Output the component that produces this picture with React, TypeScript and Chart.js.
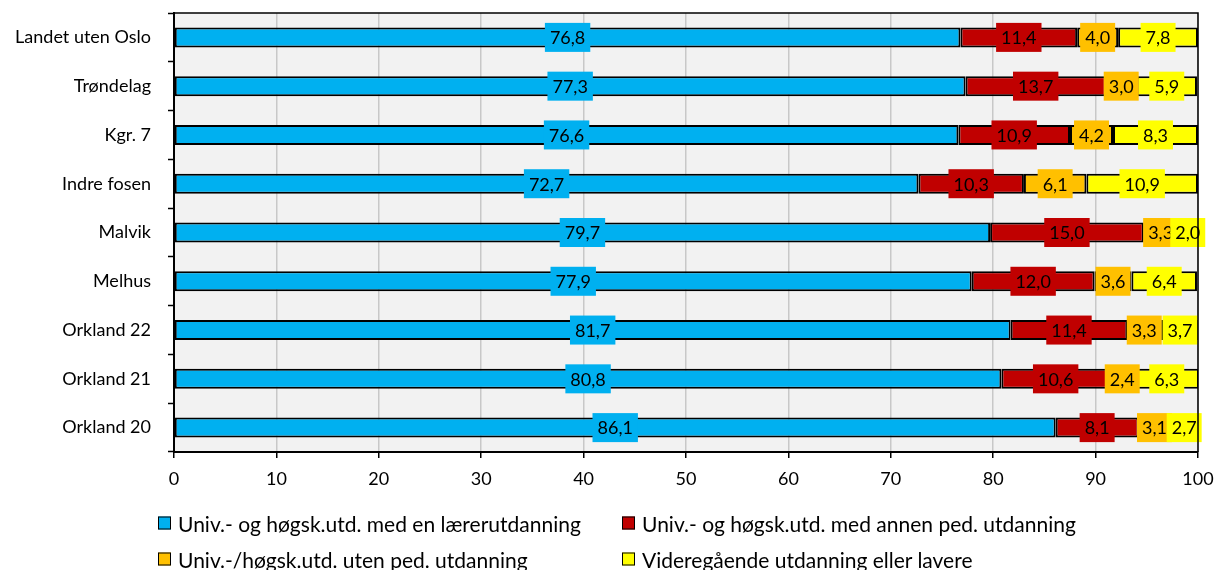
import React, { useEffect, useRef } from "react";
import { Chart, registerables } from "chart.js";

Chart.register(...registerables);

const categories = [
  "Landet uten Oslo",
  "Trøndelag",
  "Kgr. 7",
  "Indre fosen",
  "Malvik",
  "Melhus",
  "Orkland 22",
  "Orkland 21",
  "Orkland 20",
];
const laererutdanning = [76.8, 77.3, 76.6, 72.7, 79.7, 77.9, 81.7, 80.8, 86.1];
const annenPed = [11.4, 13.7, 10.9, 10.3, 15.0, 12.0, 11.4, 10.6, 8.1];
const utenPed = [4.0, 3.0, 4.2, 6.1, 3.3, 3.6, 3.3, 2.4, 3.1];
const videregaende = [7.8, 5.9, 8.3, 10.9, 2.0, 6.4, 3.7, 6.3, 2.7];

const seriesNames = [
  "Univ.- og høgsk.utd. med en lærerutdanning",
  "Univ.- og høgsk.utd. med annen ped. utdanning",
  "Univ.-/høgsk.utd. uten ped. utdanning",
  "Videregående utdanning eller lavere",
];
const seriesValues = [laererutdanning, annenPed, utenPed, videregaende];
const seriesColors = ["#00B0F0", "#C00000", "#FFC000", "#FFFF00"];

const xMin = 0;
const xMax = 100;
const xStep = 10;

const FONT = "Lato, 'Noto Sans', sans-serif";

const fmt = (v: number) => v.toFixed(1).replace(".", ",");

const plotBgPlugin = {
  id: "plotBg",
  beforeDraw(chart: any) {
    const { ctx, chartArea } = chart;
    ctx.save();
    ctx.fillStyle = "#F2F2F2";
    ctx.fillRect(chartArea.left, chartArea.top, chartArea.right - chartArea.left, chartArea.bottom - chartArea.top);
    ctx.restore();
  },
  afterDraw(chart: any) {
    const { ctx, chartArea } = chart;
    ctx.save();
    ctx.strokeStyle = "#000000";
    ctx.lineWidth = 1.5;
    ctx.beginPath();
    ctx.moveTo(chartArea.left, chartArea.top);
    ctx.lineTo(chartArea.right, chartArea.top);
    ctx.lineTo(chartArea.right, chartArea.bottom);
    ctx.stroke();
    ctx.restore();
  },
};

const barLabelPlugin = {
  id: "barLabels",
  afterDatasetsDraw(chart: any) {
    const { ctx } = chart;
    ctx.save();
    ctx.font = `18px ${FONT}`;
    ctx.textAlign = "center";
    ctx.textBaseline = "middle";
    chart.data.datasets.forEach((ds: any, di: number) => {
      const meta = chart.getDatasetMeta(di);
      meta.data.forEach((el: any, i: number) => {
        const v = ds.data[i];
        const text = fmt(v);
        const cx = (el.x + el.base) / 2;
        const cy = el.y;
        const w = ctx.measureText(text).width + 10;
        const h = 29;
        ctx.fillStyle = ds.backgroundColor;
        ctx.fillRect(cx - w / 2, cy - h / 2, w, h);
        ctx.fillStyle = "#000000";
        ctx.fillText(text, cx, cy + 1);
      });
    });
    ctx.restore();
  },
};

export default function App() {
  const canvasRef = useRef<HTMLCanvasElement | null>(null);

  useEffect(() => {
    if (!canvasRef.current) return;
    const chart = new Chart(canvasRef.current, {
      type: "bar",
      data: {
        labels: categories,
        datasets: seriesValues.map((vals, i) => ({
          label: seriesNames[i],
          data: vals,
          backgroundColor: seriesColors[i],
          borderColor: "#000000",
          borderWidth: 2,
          borderSkipped: false,
          barPercentage: 0.41,
          categoryPercentage: 1,
        })),
      },
      options: {
        indexAxis: "y",
        animation: false,
        responsive: false,
        maintainAspectRatio: false,
        layout: { padding: { top: 13, right: 18, left: 0, bottom: 78 } },
        plugins: {
          legend: { display: false },
          tooltip: { enabled: false },
        },
        scales: {
          x: {
            stacked: true,
            min: xMin,
            max: xMax,
            ticks: {
              stepSize: xStep,
              color: "#000000",
              font: { family: FONT, size: 18 },
              padding: 10,
              maxRotation: 0,
            },
            grid: {
              color: "#C8C8C8",
              lineWidth: 1.5,
              tickColor: "#000000",
              tickLength: 6,
              tickWidth: 1.5,
            },
            border: { color: "#000000", width: 2 },
            afterFit: (scale: any) => {
              scale.height = 40;
              scale.paddingLeft = 0;
              scale.paddingRight = 0;
            },
          },
          y: {
            stacked: true,
            ticks: {
              color: "#000000",
              font: { family: FONT, size: 18 },
              padding: 17,
            },
            grid: {
              drawOnChartArea: false,
              drawTicks: true,
              tickColor: "#000000",
              tickLength: 6,
              tickWidth: 1.5,
              offset: true,
            },
            border: { color: "#000000", width: 2 },
            afterFit: (scale: any) => {
              scale.width = 174;
              scale.paddingTop = 0;
              scale.paddingBottom = 0;
            },
          },
        },
      },
      plugins: [plotBgPlugin, barLabelPlugin],
    });
    return () => chart.destroy();
  }, []);

  const legendPos = [
    { left: 158, top: 523 },
    { left: 622, top: 523 },
    { left: 158, top: 559 },
    { left: 622, top: 559 },
  ];

  return (
    <div
      style={{
        position: "fixed",
        left: 0,
        top: 0,
        width: 1216,
        height: 570,
        background: "#FFFFFF",
        overflow: "hidden",
      }}
    >
      <canvas ref={canvasRef} width={1216} height={570} style={{ display: "block", width: 1216, height: 570 }} />
      {seriesNames.map((name, i) => (
        <div
          key={name}
          style={{
            position: "absolute",
            left: legendPos[i].left,
            top: legendPos[i].top,
            transform: "translateY(-50%)",
            display: "flex",
            alignItems: "center",
            fontFamily: FONT,
            fontSize: 21,
            color: "#000000",
            whiteSpace: "nowrap",
          }}
        >
          <span
            style={{
              display: "inline-block",
              width: 11,
              height: 11,
              background: seriesColors[i],
              border: "1.5px solid #000000",
              marginRight: 7,
            }}
          />
          <span>{name}</span>
        </div>
      ))}
    </div>
  );
}
